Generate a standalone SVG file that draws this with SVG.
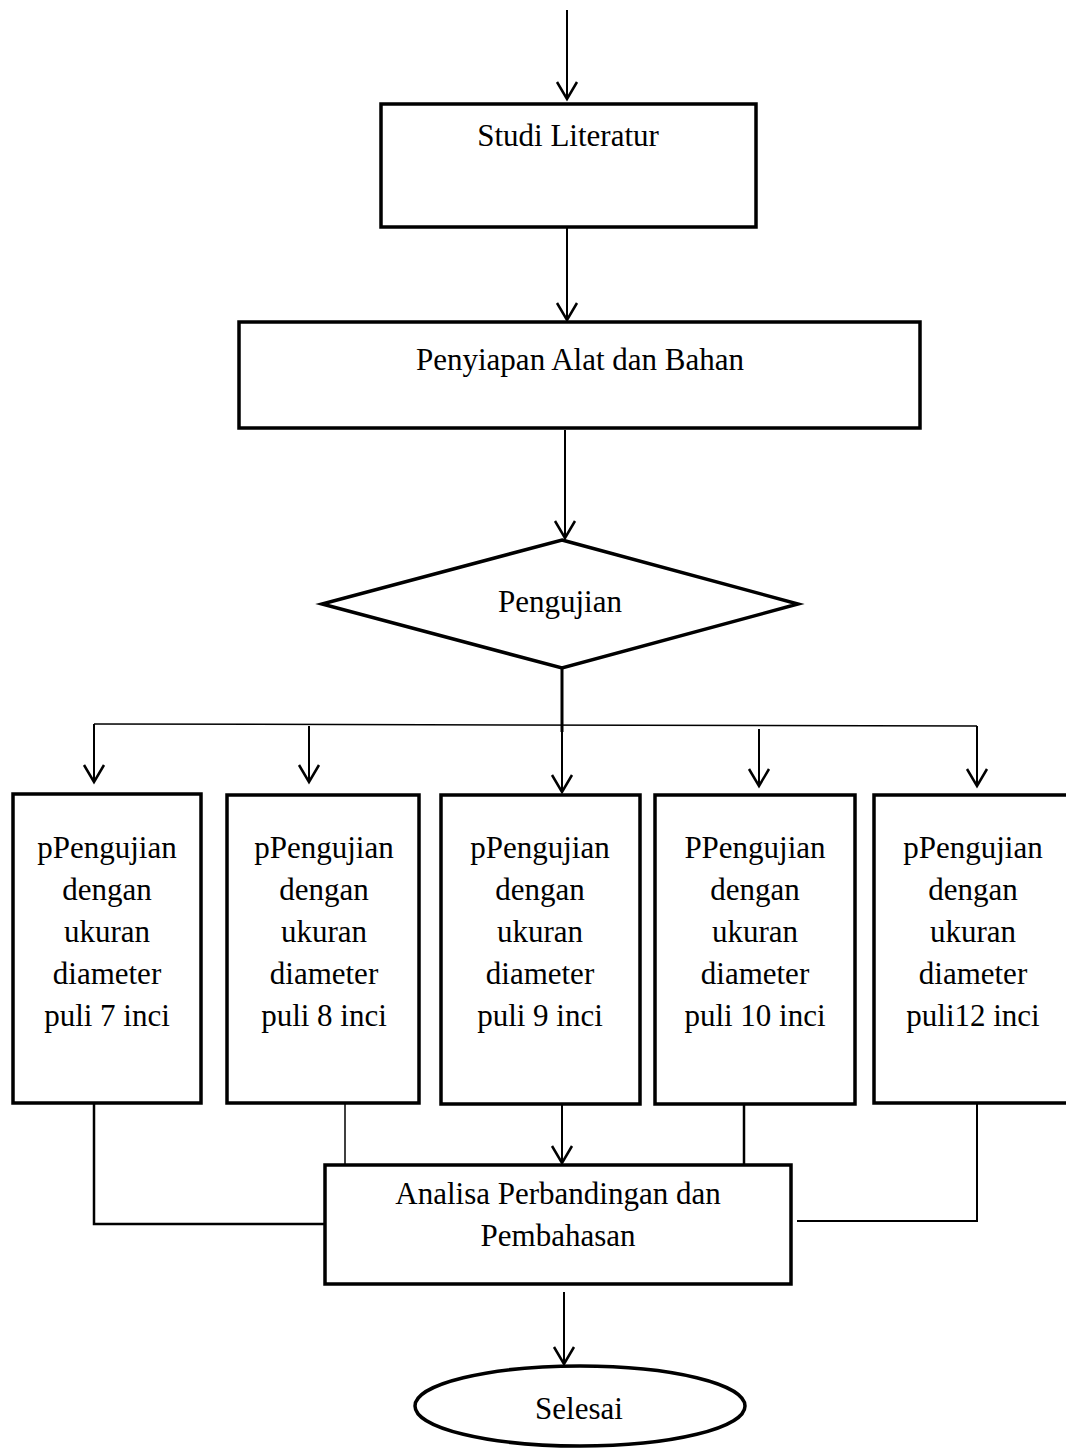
<svg xmlns="http://www.w3.org/2000/svg" width="1066" height="1448" viewBox="0 0 1066 1448">
<style>
.box{fill:#fff;stroke:#000;stroke-width:3.5}
.t{font-family:"Liberation Serif","Times New Roman",serif;font-size:31px;fill:#000;text-anchor:middle}
.c{fill:none;stroke:#000;stroke-width:2}
.thin{fill:none;stroke:#000;stroke-width:1.5}
</style>
<defs>
<marker id="ah" markerUnits="userSpaceOnUse" viewBox="-20 -12 22 24" refX="0" refY="0" markerWidth="22" markerHeight="24" orient="auto" overflow="visible">
<path d="M-17,-10 L0,0 L-17,10" fill="none" stroke="#000" stroke-width="2.5"/>
</marker>
</defs>
<rect width="1066" height="1448" fill="#fff"/>
<g id="connectors">
<line class="c" x1="567" y1="10" x2="567" y2="99" marker-end="url(#ah)"/>
<line class="c" x1="567" y1="228" x2="567" y2="320" marker-end="url(#ah)"/>
<line class="c" x1="565" y1="430" x2="565" y2="538" marker-end="url(#ah)"/>
<line class="c" x1="562" y1="668" x2="562" y2="732" style="stroke-width:3"/>
<line class="c" x1="562" y1="730" x2="562" y2="792" marker-end="url(#ah)"/>
<polyline class="thin" points="94,724 977,726"/>
<line class="c" x1="94" y1="724" x2="94" y2="782" marker-end="url(#ah)"/>
<line class="c" x1="309" y1="726" x2="309" y2="782" marker-end="url(#ah)"/>
<line class="c" x1="759" y1="729" x2="759" y2="786" marker-end="url(#ah)"/>
<line class="c" x1="977" y1="726" x2="977" y2="786" marker-end="url(#ah)"/>
<polyline class="c" points="94,1104 94,1224 325,1224" style="stroke-width:2.5"/>
<line class="thin" x1="345" y1="1104" x2="345" y2="1165"/>
<line class="c" x1="562" y1="1104" x2="562" y2="1163" marker-end="url(#ah)"/>
<line class="c" x1="744" y1="1104" x2="744" y2="1165" style="stroke-width:2.5"/>
<polyline class="c" points="977,1104 977,1221 797,1221"/>
<line class="c" x1="564" y1="1292" x2="564" y2="1364" marker-end="url(#ah)"/>
</g>
<g id="studi">
<rect class="box" x="381" y="104" width="375" height="123"/>
<text class="t" x="568" y="146">Studi Literatur</text>
</g>
<g id="penyiapan">
<rect class="box" x="239" y="322" width="681" height="106"/>
<text class="t" x="580" y="370">Penyiapan Alat dan Bahan</text>
</g>
<g id="pengujian">
<polygon class="box" points="562,540 798,604 562,668 322,604"/>
<text class="t" x="560" y="612">Pengujian</text>
</g>
<g id="p7">
<rect class="box" x="13" y="794" width="188" height="309"/>
<text class="t" x="107" y="858">pPengujian</text>
<text class="t" x="107" y="900">dengan</text>
<text class="t" x="107" y="942">ukuran</text>
<text class="t" x="107" y="984">diameter</text>
<text class="t" x="107" y="1026">puli 7 inci</text>
</g>
<g id="p8">
<rect class="box" x="227" y="795" width="192" height="308"/>
<text class="t" x="324" y="858">pPengujian</text>
<text class="t" x="324" y="900">dengan</text>
<text class="t" x="324" y="942">ukuran</text>
<text class="t" x="324" y="984">diameter</text>
<text class="t" x="324" y="1026">puli 8 inci</text>
</g>
<g id="p9">
<rect class="box" x="441" y="795" width="199" height="309"/>
<text class="t" x="540" y="858">pPengujian</text>
<text class="t" x="540" y="900">dengan</text>
<text class="t" x="540" y="942">ukuran</text>
<text class="t" x="540" y="984">diameter</text>
<text class="t" x="540" y="1026">puli 9 inci</text>
</g>
<g id="p10">
<rect class="box" x="655" y="795" width="200" height="309"/>
<text class="t" x="755" y="858">PPengujian</text>
<text class="t" x="755" y="900">dengan</text>
<text class="t" x="755" y="942">ukuran</text>
<text class="t" x="755" y="984">diameter</text>
<text class="t" x="755" y="1026">puli 10 inci</text>
</g>
<g id="p12">
<rect class="box" x="874" y="795" width="200" height="308"/>
<text class="t" x="973" y="858">pPengujian</text>
<text class="t" x="973" y="900">dengan</text>
<text class="t" x="973" y="942">ukuran</text>
<text class="t" x="973" y="984">diameter</text>
<text class="t" x="973" y="1026">puli12 inci</text>
</g>
<g id="analisa">
<rect class="box" x="325" y="1165" width="466" height="119"/>
<text class="t" x="558" y="1204">Analisa Perbandingan dan</text>
<text class="t" x="558" y="1246">Pembahasan</text>
</g>
<g id="selesai">
<ellipse class="box" cx="580" cy="1406" rx="165" ry="40"/>
<text class="t" x="579" y="1419">Selesai</text>
</g>
</svg>
